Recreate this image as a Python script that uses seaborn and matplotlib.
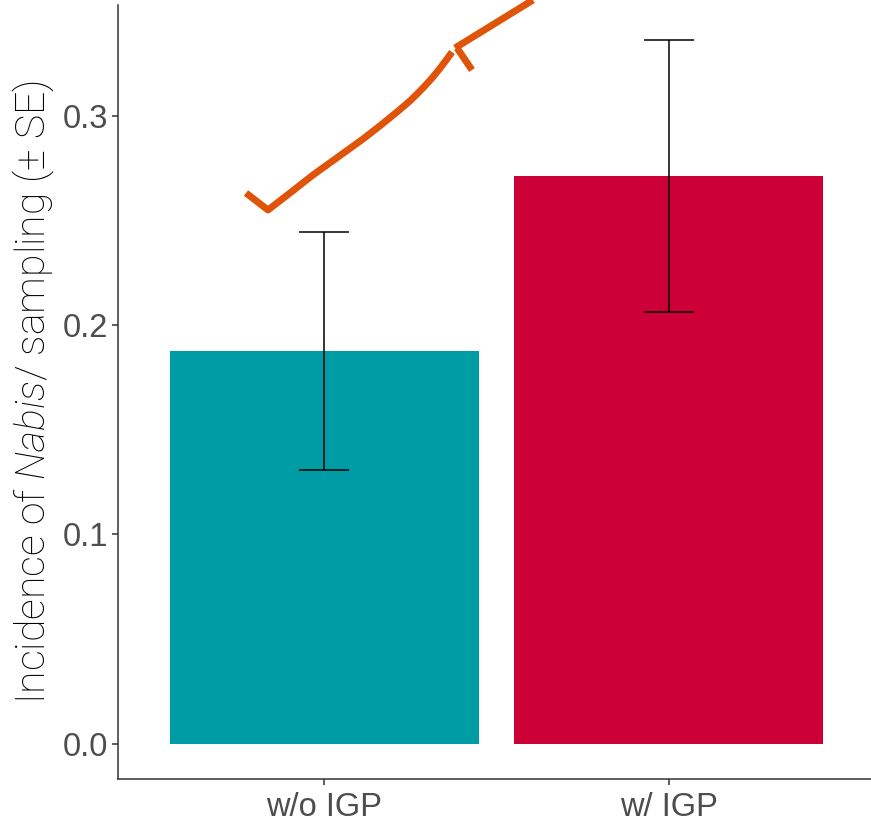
import numpy as np
import pandas as pd
import matplotlib
matplotlib.use("Agg")
import matplotlib.pyplot as plt
from matplotlib.lines import Line2D
import seaborn as sns

# data
groups = ["w/o IGP", "w/ IGP"]
incidence = [0.1875, 0.2712]
se = [0.0568, 0.0648]
bar_colors = ["#009CA6", "#CC0036"]

# hand-drawn orange stroke on top of the figure (figure pixels, from top-left)
stroke_main = [(246, 193), (268, 210), (290, 193), (313, 175), (338, 157),
               (363, 139), (381, 125), (397, 112), (411, 100), (423, 88),
               (433, 77), (441, 67), (447, 59), (452, 52)]
stroke_upper = [(455, 48), (533, 0)]
stroke_tick = [(457, 48), (472, 70)]

W, H = 871, 823
sns.set_theme(style="ticks")
plt.rcParams["font.family"] = ["Liberation Sans", "DejaVu Sans"]
plt.rcParams["mathtext.fontset"] = "custom"
plt.rcParams["mathtext.rm"] = "Roboto:light"
plt.rcParams["mathtext.it"] = "Roboto:italic:light"

fig = plt.figure(figsize=(W / 100, H / 100), dpi=100)
ax = fig.add_axes([118 / W, 1 - 779 / H, (875 - 118) / W, (779 - 5) / H])

df = pd.DataFrame({"group": groups, "incidence": incidence, "se": se})
sns.barplot(data=df, x="group", y="incidence", hue="group", palette=bar_colors,
            width=0.9, errorbar=None, legend=False, ax=ax, saturation=1,
            linewidth=0)
ax.errorbar(np.arange(len(groups)), df["incidence"], yerr=df["se"], fmt="none",
            ecolor="black", elinewidth=1.1, capsize=18, capthick=1.1)

lo = min(0, (df["incidence"] - df["se"]).min())
hi = (df["incidence"] + df["se"]).max()
pad = 0.05 * (hi - lo)
ax.set_ylim(lo - pad, hi + pad)
ax.set_xlim(-0.6, 1.6)
ax.set_yticks([0.0, 0.1, 0.2, 0.3])
ax.set_yticklabels(["0.0", "0.1", "0.2", "0.3"])

for s in ["top", "right"]:
    ax.spines[s].set_visible(False)
for s in ["left", "bottom"]:
    ax.spines[s].set_color("#333333")
    ax.spines[s].set_linewidth(1.1)
ax.tick_params(axis="both", which="both", direction="out", length=4, width=1.1,
               color="#333333", labelcolor="#4D4D4D", labelsize=23.5,
               top=False, right=False)
ax.tick_params(axis="y", pad=3)
ax.tick_params(axis="x", pad=5)
ax.grid(False)
ax.set_facecolor("white")
fig.patch.set_facecolor("white")

ax.set_xlabel("")
ax.set_ylabel(r"Incidence of $\it{Nabis/}$ sampling ($\pm$ SE)",
              family=["Roboto", "DejaVu Sans"], fontweight="light",
              fontsize=29.5, color="black", labelpad=5)

def to_fig(pts):
    xs = [p[0] / W for p in pts]
    ys = [1 - p[1] / H for p in pts]
    return xs, ys

for pts in (stroke_main, stroke_upper, stroke_tick):
    xs, ys = to_fig(pts)
    fig.add_artist(Line2D(xs, ys, transform=fig.transFigure, color="#E0540A",
                          linewidth=5, solid_capstyle="butt",
                          solid_joinstyle="round"))

fig.savefig("out.png", dpi=100)
